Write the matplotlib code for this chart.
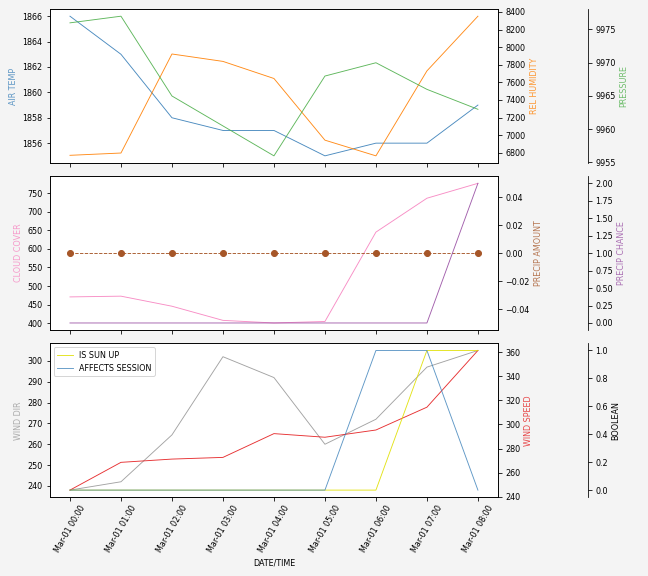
"""Session weather panels: temperature/humidity/pressure, cloud/precip, wind/flags."""

import matplotlib

matplotlib.use("Agg")
import matplotlib.dates as mdates
import matplotlib.pyplot as plt
import pandas as pd

# ====== Data ======
TIMES = pd.date_range("2023-03-01 00:00", periods=9, freq="h")

AIR_TEMP = [1866, 1863, 1858, 1857, 1857, 1855, 1856, 1856, 1859]
REL_HUMIDITY = [6772, 6798, 7922, 7838, 7644, 6944, 6766, 7730, 8351]
PRESSURE = [9976.0, 9977.0, 9965.0, 9960.5, 9956.0, 9968.0, 9970.0, 9966.0, 9963.0]

CLOUD_COVER = [471, 473, 446, 408, 401, 405, 645, 736, 776]
PRECIP_AMOUNT = [0, 0, 0, 0, 0, 0, 0, 0, 0]
PRECIP_CHANCE = [0, 0, 0, 0, 0, 0, 0, 0, 2]

WIND_DIR = [238, 242, 264.5, 302, 292, 260, 272, 297, 305]
WIND_SPEED = [245.6, 268.6, 271.3, 272.7, 292.4, 289.4, 295.4, 314.3, 361.3]
IS_SUN_UP = [0, 0, 0, 0, 0, 0, 0, 1, 1]
AFFECTS_SESSION = [0, 0, 0, 0, 0, 0, 1, 1, 0]
# ==================

# Set1-like palette
C_BLUE = "#377eb8"
C_ORANGE = "#ff7f00"
C_GREEN = "#4daf4a"
C_PINK = "#f781bf"
C_BROWN = "#a65628"
C_PURPLE = "#984ea3"
C_GRAY = "#999999"
C_RED = "#e41a1c"
C_YELLOW = "#e0e000"

LW = 0.9
ALPHA = 0.9
FS = 8

plt.rcParams["font.size"] = FS

fig, axes = plt.subplots(3, 1, figsize=(9, 8), dpi=72, sharex=True)
fig.patch.set_facecolor("#f4f4f4")
fig.subplots_adjust(left=0.0765, right=0.769, top=0.984, bottom=0.137, hspace=0.088)


def add_twins(ax):
    """Return (right twin, offset third twin)."""
    t1 = ax.twinx()
    t2 = ax.twinx()
    t2.spines["right"].set_position(("axes", 1.2))
    for s in ("top", "left", "bottom"):
        t2.spines[s].set_visible(False)
    return t1, t2


# ---- panel 1 ----
ax = axes[0]
t1, t2 = add_twins(ax)
ax.plot(TIMES, AIR_TEMP, color=C_BLUE, lw=LW, alpha=ALPHA)
t1.plot(TIMES, REL_HUMIDITY, color=C_ORANGE, lw=LW, alpha=ALPHA)
t2.plot(TIMES, PRESSURE, color=C_GREEN, lw=LW, alpha=ALPHA)
ax.set_ylabel("AIR TEMP", color=C_BLUE, alpha=0.8)
t1.set_ylabel("REL HUMIDITY", color=C_ORANGE, alpha=0.8)
t2.set_ylabel("PRESSURE", color=C_GREEN, alpha=0.8)

# ---- panel 2 ----
ax = axes[1]
t1, t2 = add_twins(ax)
ax.plot(TIMES, CLOUD_COVER, color=C_PINK, lw=LW, alpha=ALPHA)
t1.plot(TIMES, PRECIP_AMOUNT, color=C_BROWN, lw=LW, ls="--", marker="o", ms=6)
t2.plot(TIMES, PRECIP_CHANCE, color=C_PURPLE, lw=LW, alpha=ALPHA)
ax.set_ylabel("CLOUD COVER", color=C_PINK, alpha=0.8)
t1.set_ylabel("PRECIP AMOUNT", color=C_BROWN, alpha=0.8)
t2.set_ylabel("PRECIP CHANCE", color=C_PURPLE, alpha=0.8)

# ---- panel 3 ----
ax = axes[2]
t1, t2 = add_twins(ax)
ax.plot(TIMES, WIND_DIR, color=C_GRAY, lw=LW, alpha=ALPHA)
t1.plot(TIMES, WIND_SPEED, color=C_RED, lw=LW, alpha=ALPHA)
t2.plot(TIMES, IS_SUN_UP, color=C_YELLOW, lw=LW, alpha=ALPHA, label="IS SUN UP")
t2.plot(TIMES, AFFECTS_SESSION, color=C_BLUE, lw=LW, alpha=0.8, label="AFFECTS SESSION")
ax.set_ylabel("WIND DIR", color=C_GRAY, alpha=0.8)
t1.set_ylabel("WIND SPEED", color=C_RED, alpha=0.8)
t2.set_ylabel("BOOLEAN")
t2.legend(loc="upper left", fontsize=FS)

ax.set_xlabel("DATE/TIME")
ax.xaxis.set_major_locator(mdates.HourLocator())
ax.xaxis.set_major_formatter(mdates.DateFormatter("%b-%d %H:%M"))
ax.tick_params(axis="x", rotation=60)

fig.savefig("out.png", dpi=72, facecolor=fig.get_facecolor())
